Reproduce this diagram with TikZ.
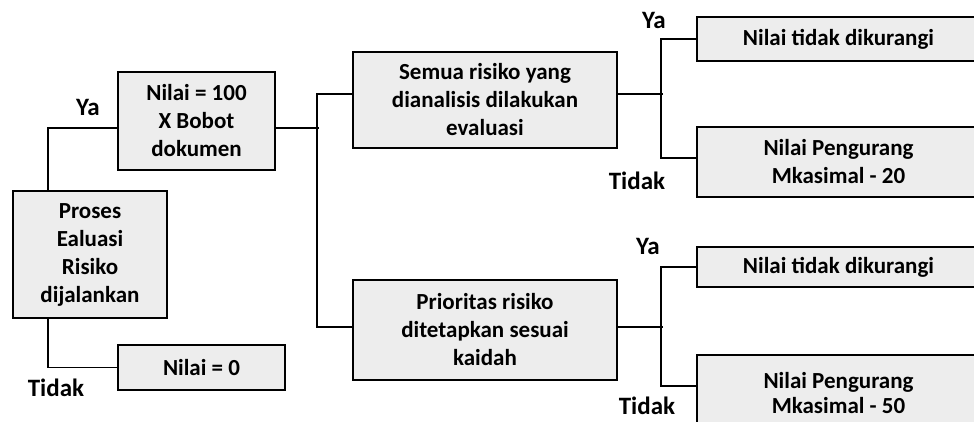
\documentclass[tikz,border=0pt]{standalone}
\usepackage{fontspec}
\setmainfont{Carlito}
\usetikzlibrary{calc}
\tikzset{
  box/.style={draw=black, line width=2pt, fill=gray!14, rectangle, align=center, inner sep=0pt,
     font=\bfseries\fontsize{23}{28}\selectfont},
  lbl/.style={inner sep=0pt, font=\bfseries\fontsize{25}{28}\selectfont},
  conn/.style={draw=black, line width=1.6pt}
}
\begin{document}
\begin{tikzpicture}[x=1pt,y=-1pt]
\useasboundingbox (0,0) rectangle (974,422);
\clip (0,0) rectangle (974,422);
\node[box, minimum width=154pt, minimum height=127pt] (proses) at (90,254.5) {Proses\\Ealuasi\\Risiko\\dijalankan};
\node[box, minimum width=157pt, minimum height=98pt] (n100) at (196.5,121) {Nilai = 100\\X Bobot\\dokumen};
\node[box, minimum width=167pt, minimum height=45pt] (n0) at (201.5,367.5) {Nilai = 0};
\node[box, minimum width=264pt, minimum height=96pt] (semua) at (485,100) {Semua risiko yang\\dianalisis dilakukan\\evaluasi};
\node[box, minimum width=264pt, minimum height=100pt] (prior) at (485,330) {Prioritas risiko\\ditetapkan sesuai\\kaidah};
\node[box, minimum width=283pt, minimum height=44pt] (r1) at (838.5,39) {Nilai tidak dikurangi};
\node[box, minimum width=283pt, minimum height=70pt] (r2) at (838.5,162) {Nilai Pengurang\\Mkasimal - 20};
\node[box, minimum width=283pt, minimum height=40pt] (r3) at (838.5,267) {Nilai tidak dikurangi};
\node[box, minimum width=283pt, minimum height=76pt, font=\bfseries\fontsize{23}{25}\selectfont] (r4) at (838.5,393) {Nilai Pengurang\\Mkasimal - 50};

\node[lbl] (ya1) at (88,107) {Ya};
\node[lbl] (td1) at (56,388) {Tidak};
\node[lbl] (ya2) at (654,20) {Ya};
\node[lbl] (td2) at (637,181) {Tidak};
\node[lbl] (ya3) at (648,246) {Ya};
\node[lbl] (td3) at (647,406) {Tidak};

\draw[conn] ($(proses.north west)+(36,0)$) |- ($(n100.west)+(0,7)$);
\draw[conn] ($(proses.south west)+(36,0)$) |- (n0.west);
\draw[conn] ($(n100.east)+(0,7)$) -- ($(n100.east)+(43,7)$);
\draw[conn] ($(semua.west)+(0,-6)$) -| ($(prior.west)+(-35,-3)$) -- ($(prior.west)+(0,-3)$);
\draw[conn] ($(semua.east)+(0,-6)$) -- ($(semua.east)+(45,-6)$);
\draw[conn] (r1.west) -| ($(r2.west)+(-35,-4)$) -- ($(r2.west)+(0,-4)$);
\draw[conn] ($(prior.east)+(0,-3)$) -- ($(prior.east)+(45,-3)$);
\draw[conn] (r3.west) -| ($(r4.west)+(-35,-7)$) -- ($(r4.west)+(0,-7)$);
\end{tikzpicture}
\end{document}
